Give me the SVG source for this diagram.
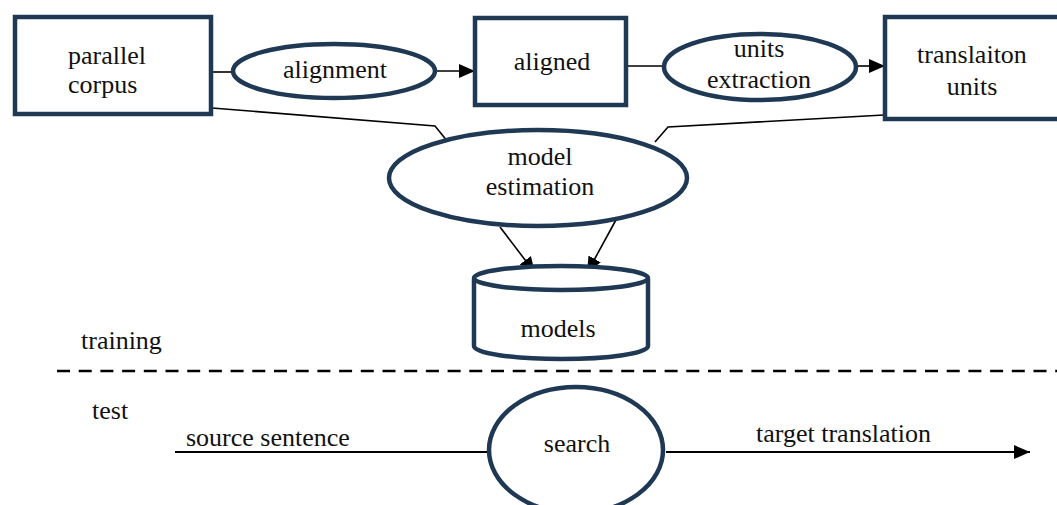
<svg xmlns="http://www.w3.org/2000/svg" width="1057" height="505" viewBox="0 0 1057 505">
  <style>
    .shape { fill: #ffffff; stroke: #1f3854; stroke-width: 4.5; }
    .mid { text-anchor: middle; }
    .edge { fill: none; stroke: #000000; stroke-width: 1.6; }
    .thick { fill: none; stroke: #000000; stroke-width: 2.2; }
  </style>
  <defs>
    <marker id="arrow" markerUnits="userSpaceOnUse" markerWidth="17" markerHeight="15" refX="16" refY="7" orient="auto">
      <path d="M0,0 L16,7 L0,14 Z" fill="#000000"/>
    </marker>
  </defs>
  <rect width="1057" height="505" fill="#ffffff"/>

  <!-- connectors -->
  <g id="connectors">
    <line class="edge" x1="213" y1="72" x2="232" y2="72"/>
    <line class="edge" x1="437" y1="71" x2="475" y2="71" marker-end="url(#arrow)"/>
    <line class="edge" x1="628" y1="66" x2="662" y2="66"/>
    <line class="edge" x1="858" y1="66" x2="885" y2="66" marker-end="url(#arrow)"/>
    <polyline class="edge" points="212,108 435,126 448,142"/>
    <polyline class="edge" points="884,115 668,127 655,142"/>
    <line class="edge" x1="500" y1="227" x2="535" y2="273" marker-end="url(#arrow)"/>
    <line class="edge" x1="617" y1="218" x2="587" y2="273" marker-end="url(#arrow)"/>
    <line class="thick" x1="175" y1="452" x2="488" y2="452"/>
    <line class="thick" x1="666" y1="452" x2="1030" y2="452" marker-end="url(#arrow)"/>
    <line x1="57" y1="371" x2="1057" y2="371" stroke="#000000" stroke-width="2.5" stroke-dasharray="13,8.7"/>
  </g>

  <!-- all labels share one serif face -->
  <g font-family="Liberation Serif" font-size="26" fill="#111111">
    <g id="parallel-corpus">
      <rect class="shape" x="15" y="17" width="196" height="97"/>
      <text x="68" y="64">parallel</text>
      <text x="68" y="93">corpus</text>
    </g>

    <g id="alignment">
      <ellipse class="shape" cx="334" cy="71" rx="101" ry="27"/>
      <text class="mid" x="335" y="78">alignment</text>
    </g>

    <g id="aligned">
      <rect class="shape" x="475" y="18" width="151" height="87"/>
      <text class="mid" x="552" y="70">aligned</text>
    </g>

    <g id="units-extraction">
      <ellipse class="shape" cx="760" cy="67" rx="96" ry="33"/>
      <text class="mid" x="759" y="57">units</text>
      <text class="mid" x="759" y="88">extraction</text>
    </g>

    <g id="translation-units">
      <rect class="shape" x="885" y="17" width="190" height="102"/>
      <text class="mid" x="972" y="63">translaiton</text>
      <text class="mid" x="972" y="95">units</text>
    </g>

    <g id="model-estimation">
      <ellipse class="shape" cx="538" cy="178" rx="149" ry="48"/>
      <text class="mid" x="540" y="165">model</text>
      <text class="mid" x="540" y="195">estimation</text>
    </g>

    <g id="models">
      <path class="shape" d="M474,279 L474,346 A87,13 0 0 0 648,346 L648,279"/>
      <ellipse class="shape" cx="561" cy="278" rx="87" ry="12"/>
      <text class="mid" x="558" y="337">models</text>
    </g>

    <g id="search">
      <ellipse class="shape" cx="576" cy="450" rx="87" ry="63"/>
      <text class="mid" x="577" y="452">search</text>
    </g>

    <g id="phase-labels">
      <text x="81" y="349">training</text>
      <text x="92" y="419">test</text>
      <text x="186" y="446">source sentence</text>
      <text x="756" y="442">target translation</text>
    </g>
  </g>
</svg>
